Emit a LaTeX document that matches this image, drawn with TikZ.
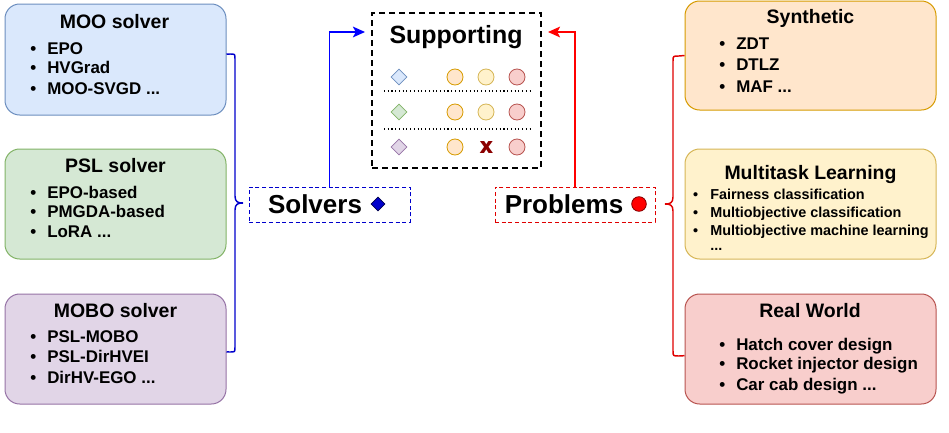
\documentclass[tikz,border=0pt]{standalone}
\usepackage{fontspec}
\setmainfont{Liberation Sans}
\usetikzlibrary{shapes.geometric,arrows.meta,fit,calc}
\definecolor{bfill}{HTML}{DAE8FC}\definecolor{bline}{HTML}{6C8EBF}
\definecolor{gfill}{HTML}{D5E8D4}\definecolor{gline}{HTML}{82B366}
\definecolor{pfill}{HTML}{E1D5E7}\definecolor{pline}{HTML}{9673A6}
\definecolor{ofill}{HTML}{FFE6CC}\definecolor{oline}{HTML}{D79B00}
\definecolor{yfill}{HTML}{FFF2CC}\definecolor{yline}{HTML}{D6B656}
\definecolor{rfill}{HTML}{F8CECC}\definecolor{rline}{HTML}{B85450}
\definecolor{cblue}{HTML}{0000CC}
\definecolor{cred}{HTML}{E00000}
\definecolor{xred}{HTML}{8B0000}
\newcommand\itm[1]{\llap{\textbullet\hspace{8.3pt}}#1}
\newcommand\itmsm[1]{\llap{\textbullet\hspace{9pt}}#1}
\begin{document}
\begin{tikzpicture}[x=0.75pt,y=-0.75pt,
  box/.style={rounded corners=11pt, line width=0.75pt, inner sep=0pt},
  ttl/.style={font=\bfseries\fontsize{14.6}{17}\selectfont, inner sep=0pt, anchor=base},
  li/.style={font=\bfseries\fontsize{12.7}{15}\selectfont, inner sep=0pt, anchor=base west},
  lis/.style={font=\bfseries\fontsize{10.8}{13}\selectfont, inner sep=0pt, anchor=base west},
  big/.style={font=\bfseries\fontsize{19.5}{22}\selectfont, inner sep=0pt, anchor=base},
  dia/.style={shape=diamond, minimum size=12pt, inner sep=0pt, line width=0.6pt},
  dot/.style={shape=circle, minimum size=12pt, inner sep=0pt, line width=0.6pt},
  arr/.style={line width=1.2pt, -{Stealth[length=9pt,width=8pt,inset=2pt]}},
  brace/.style={line width=1.1pt},
]
\fill[white] (0,0) rectangle (949,432);
\useasboundingbox (0,0) rectangle (949,432);

% left boxes
\node[box, draw=bline, fill=bfill, fit={(5,4)(226,115)}] (moo) {};
\node[ttl] (mooT) at (114.5,28) {MOO solver};
\node[li] (moo1) at (47,54.2) {\itm{EPO}};
\node[li] (moo2) at (47,73.2) {\itm{HVGrad}};
\node[li] (moo3) at (47,94.2) {\itm{MOO-SVGD ...}};

\node[box, draw=gline, fill=gfill, fit={(5,149)(226,259)}] (psl) {};
\node[ttl] (pslT) at (115.5,172.5) {PSL solver};
\node[li] (psl1) at (47,198.6) {\itm{EPO-based}};
\node[li] (psl2) at (47,217.6) {\itm{PMGDA-based}};
\node[li] (psl3) at (47,237.6) {\itm{LoRA ...}};

\node[box, draw=pline, fill=pfill, fit={(5,294)(226,404)}] (mobo) {};
\node[ttl] (moboT) at (115.5,317) {MOBO solver};
\node[li] (mobo1) at (47,342.6) {\itm{PSL-MOBO}};
\node[li] (mobo2) at (47,362.6) {\itm{PSL-DirHVEI}};
\node[li] (mobo3) at (47,383.6) {\itm{DirHV-EGO ...}};

% right boxes
\node[box, draw=oline, fill=ofill, fit={(685,1)(936,110)}] (syn) {};
\node[ttl] (synT) at (810.5,23) {Synthetic};
\node[li] (syn1) at (736,49.1) {\itm{ZDT}};
\node[li] (syn2) at (736,70.6) {\itm{DTLZ}};
\node[li] (syn3) at (736,92.1) {\itm{MAF ...}};

\node[box, draw=yline, fill=yfill, fit={(685,149)(936,259)}] (mtl) {};
\node[ttl] (mtlT) at (810.5,179) {Multitask Learning};
\node[lis] (mtl1) at (710,199.2) {\itmsm{Fairness classification}};
\node[lis] (mtl2) at (710,217.2) {\itmsm{Multiobjective classification}};
\node[lis] (mtl3) at (710,235.2) {\itmsm{Multiobjective machine learning}};
\node[lis] (mtl4) at (710,250.5) {...};

\node[box, draw=rline, fill=rfill, fit={(685,294)(936,404)}] (real) {};
\node[ttl] (realT) at (810,317.5) {Real World};
\node[li] (real1) at (736,350.1) {\itm{Hatch cover design}};
\node[li] (real2) at (736,369.6) {\itm{Rocket injector design}};
\node[li] (real3) at (736,390.6) {\itm{Car cab design ...}};

% supporting box
\node[draw=black, line width=1.5pt, dash pattern=on 4.5pt off 3pt, inner sep=0pt, fit={(372,13)(541,168)}] (sup) {};
\node[font=\bfseries\fontsize{18.7}{21}\selectfont, inner sep=0pt, anchor=base] (supT) at (456,43.5) {Supporting};
\node[dia, draw=bline, fill=bfill] (d1) at (399,77) {};
\node[dia, draw=gline, fill=gfill] (d2) at (399,112) {};
\node[dia, draw=pline, fill=pfill] (d3) at (399,147) {};
\node[dot, draw=oline, fill=ofill] (c11) at (455,77) {};
\node[dot, draw=yline, fill=yfill] (c12) at (486,77) {};
\node[dot, draw=rline, fill=rfill] (c13) at (517,77) {};
\node[dot, draw=oline, fill=ofill] (c21) at (455,112) {};
\node[dot, draw=yline, fill=yfill] (c22) at (486,112) {};
\node[dot, draw=rline, fill=rfill] (c23) at (517,112) {};
\node[dot, draw=oline, fill=ofill] (c31) at (455,147) {};
\node[text=xred, font=\bfseries\fontsize{17}{17}\selectfont, inner sep=0pt, anchor=base] (x32) at (486.5,153.5) {\rlap{x}\kern0.7pt x};
\node[dot, draw=rline, fill=rfill] (c33) at (517,147) {};
\draw[line width=0.8pt, dotted] (384,91) -- (533,91);
\draw[line width=0.8pt, dotted] (384,129) -- (533,129);

% solvers / problems
\node[draw=cblue, line width=0.75pt, dash pattern=on 3pt off 2pt, inner sep=0pt, fit={(249,187)(410,222)}] (solv) {};
\node[big] (solvT) at (315,213.5) {Solvers};
\node[dia, minimum size=10.5pt, fill=cblue, draw=black!70!blue] (solvD) at (378,204) {};

\node[draw=cred, line width=0.75pt, dash pattern=on 3pt off 2pt, inner sep=0pt, fit={(495,187)(655,222)}] (prob) {};
\node[big] (probT) at (564,213.5) {Problems};
\node[dot, minimum size=11pt, fill=red, draw=red!50!black] (probC) at (639,204) {};

% arrows
\draw[arr, blue] (solv.north) |- ($(sup.north west)+(-6,20)$);
\draw[arr, red] (prob.north) |- ($(sup.north east)+(6,20)$);

% braces
\draw[brace, cblue] ([yshift=4pt]moo.east) -- (230,54) .. controls (235,54) .. (235,59)
  -- (235,196) .. controls (235,202) and (238,203) .. (243,203)
  .. controls (238,203) and (235,204) .. (235,210)
  -- (235,347) .. controls (235,352) .. (230,352) -- ([yshift=-2.2pt]mobo.east);
\draw[brace, cred] (syn.west) -- (679,56) .. controls (673,56) .. (673,61)
  -- (673,197) .. controls (673,203) and (670,204) .. (665,204)
  .. controls (670,204) and (673,205) .. (673,211)
  -- (673,351) .. controls (673,356) .. (679,356) -- ([yshift=-5pt]real.west);
\end{tikzpicture}
\end{document}
